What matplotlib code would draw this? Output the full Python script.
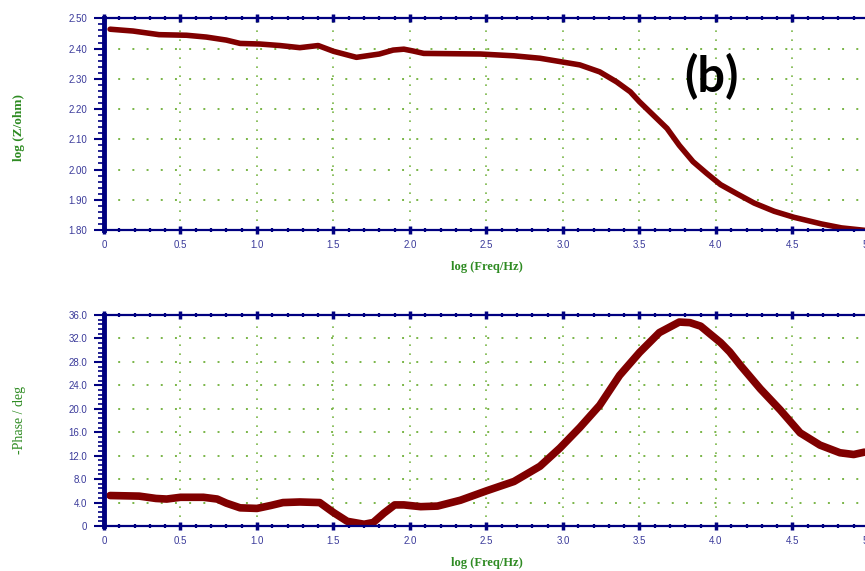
import matplotlib
matplotlib.use("Agg")
import matplotlib.pyplot as plt
from matplotlib.ticker import MultipleLocator

# log|Z| vs log f
freq_z = [0.04, 0.19, 0.36, 0.54, 0.67, 0.80, 0.89, 1.02, 1.15, 1.28, 1.40, 1.50,
          1.65, 1.80, 1.89, 1.96, 2.02, 2.09, 2.46, 2.68, 2.85, 2.98, 3.11, 3.24,
          3.35, 3.44, 3.50, 3.59, 3.68, 3.76, 3.85, 3.94, 4.03, 4.14, 4.25, 4.38,
          4.51, 4.69, 4.82, 4.97]
log_z = [2.464, 2.458, 2.446, 2.444, 2.438, 2.428, 2.417, 2.415, 2.410, 2.403, 2.410, 2.391,
         2.371, 2.382, 2.395, 2.398, 2.392, 2.384, 2.382, 2.376, 2.368, 2.357, 2.346, 2.323,
         2.290, 2.257, 2.224, 2.180, 2.136, 2.080, 2.026, 1.987, 1.950, 1.919, 1.889, 1.862,
         1.842, 1.820, 1.807, 1.799]

# -phase vs log f
freq_p = [0.04, 0.23, 0.34, 0.41, 0.50, 0.65, 0.74, 0.80, 0.89, 1.00, 1.09, 1.17,
          1.28, 1.41, 1.50, 1.59, 1.70, 1.76, 1.83, 1.90, 1.96, 2.07, 2.18, 2.33,
          2.50, 2.68, 2.85, 2.98, 3.11, 3.24, 3.37, 3.50, 3.63, 3.76, 3.83, 3.90,
          3.96, 4.03, 4.09, 4.16, 4.29, 4.42, 4.55, 4.68, 4.81, 4.90, 4.97]
phase = [5.2, 5.1, 4.7, 4.6, 4.9, 4.9, 4.6, 3.9, 3.1, 3.0, 3.5, 4.0,
         4.1, 4.0, 2.3, 0.8, 0.3, 0.6, 2.2, 3.6, 3.6, 3.3, 3.4, 4.4,
         6.0, 7.6, 10.2, 13.3, 16.8, 20.6, 25.7, 29.6, 33.0, 34.8, 34.7, 34.1,
         32.8, 31.3, 29.7, 27.4, 23.4, 19.8, 15.9, 13.8, 12.5, 12.2, 12.6]

xticks = [0, 0.5, 1.0, 1.5, 2.0, 2.5, 3.0, 3.5, 4.0, 4.5, 5.0]
xtick_labels = ["0", "0.5", "1.0", "1.5", "2.0", "2.5", "3.0", "3.5", "4.0", "4.5", "5.0"]
z_ticks = [1.8, 1.9, 2.0, 2.1, 2.2, 2.3, 2.4, 2.5]
z_labels = ["1.80", "1.90", "2.00", "2.10", "2.20", "2.30", "2.40", "2.50"]
p_ticks = [0, 4, 8, 12, 16, 20, 24, 28, 32, 36]
p_labels = ["0", "4.0", "8.0", "12.0", "16.0", "20.0", "24.0", "28.0", "32.0", "36.0"]

navy = "#000080"
green = "#2e8b22"
dotgreen = "#7ab648"
tickcol = "#3a3a9a"
curve = "#800000"

fig = plt.figure(figsize=(8.65, 5.71), dpi=100)
ax1 = fig.add_axes([0.1202, 0.5972, 0.8844, 0.3707])
ax2 = fig.add_axes([0.1202, 0.0788, 0.8844, 0.3695])


def style(ax, yticks, ylabels, yminor):
    ax.set_xlim(0, 5)
    ax.set_xticks(xticks)
    ax.set_xticklabels(xtick_labels)
    ax.xaxis.set_minor_locator(MultipleLocator(0.1))
    ax.set_yticks(yticks)
    ax.set_yticklabels(ylabels)
    ax.yaxis.set_minor_locator(MultipleLocator(yminor))
    ax.set_ylim(yticks[0], yticks[-1])
    for s in ["top", "bottom"]:
        ax.spines[s].set_color(navy)
        ax.spines[s].set_linewidth(1.6)
    ax.spines["left"].set_color(navy)
    ax.spines["left"].set_linewidth(3.5)
    ax.spines["right"].set_visible(False)
    ax.tick_params(axis="x", which="major", direction="inout", length=6, width=2.5,
                   color=navy, top=True, labelsize=7, labelcolor=tickcol, pad=4)
    ax.tick_params(axis="x", which="minor", direction="inout", length=3.5, width=1.6,
                   color=navy, top=True)
    ax.tick_params(axis="y", which="major", direction="out", length=7, width=1.5,
                   color=navy, labelsize=7, labelcolor=tickcol, pad=5)
    ax.tick_params(axis="y", which="minor", direction="out", length=4, width=1.2, color=navy)
    for lab in ax.get_xticklabels() + ax.get_yticklabels():
        lab.set_family("Liberation Sans")
    ax.grid(axis="x", which="major", color=dotgreen, linestyle=(0, (1, 4.4)), lw=1.2)
    ax.grid(axis="y", which="major", color=dotgreen, linestyle=(0, (1, 6.3)), lw=1.4)
    ax.set_axisbelow(True)


style(ax1, z_ticks, z_labels, 0.02)
style(ax2, p_ticks, p_labels, 0.8)

ax1.plot(freq_z, log_z, color=curve, lw=4, solid_capstyle="round", solid_joinstyle="round")
ax2.plot(freq_p, phase, color=curve, lw=5.5, solid_capstyle="round", solid_joinstyle="round")

fig.text(0.022, 0.776, "log (Z/ohm)", rotation=90, ha="center", va="center",
         color=green, fontsize=9.5, fontweight="bold", family="Liberation Serif")
fig.text(0.022, 0.264, "-Phase / deg", rotation=90, ha="center", va="center",
         color=green, fontsize=10, family="Liberation Serif")
fig.text(0.5624, 1 - 267 / 571, "log (Freq/Hz)", ha="center", va="center",
         color=green, fontsize=9, fontweight="bold", family="Liberation Serif")
fig.text(0.5624, 1 - 563 / 571, "log (Freq/Hz)", ha="center", va="center",
         color=green, fontsize=9, fontweight="bold", family="Liberation Serif")

fig.text(711 / 865, 1 - 77 / 571, "(b)", ha="center", va="center",
         color="black", fontsize=35, fontweight="bold", family="Lato")

fig.savefig("out.png", dpi=100)
